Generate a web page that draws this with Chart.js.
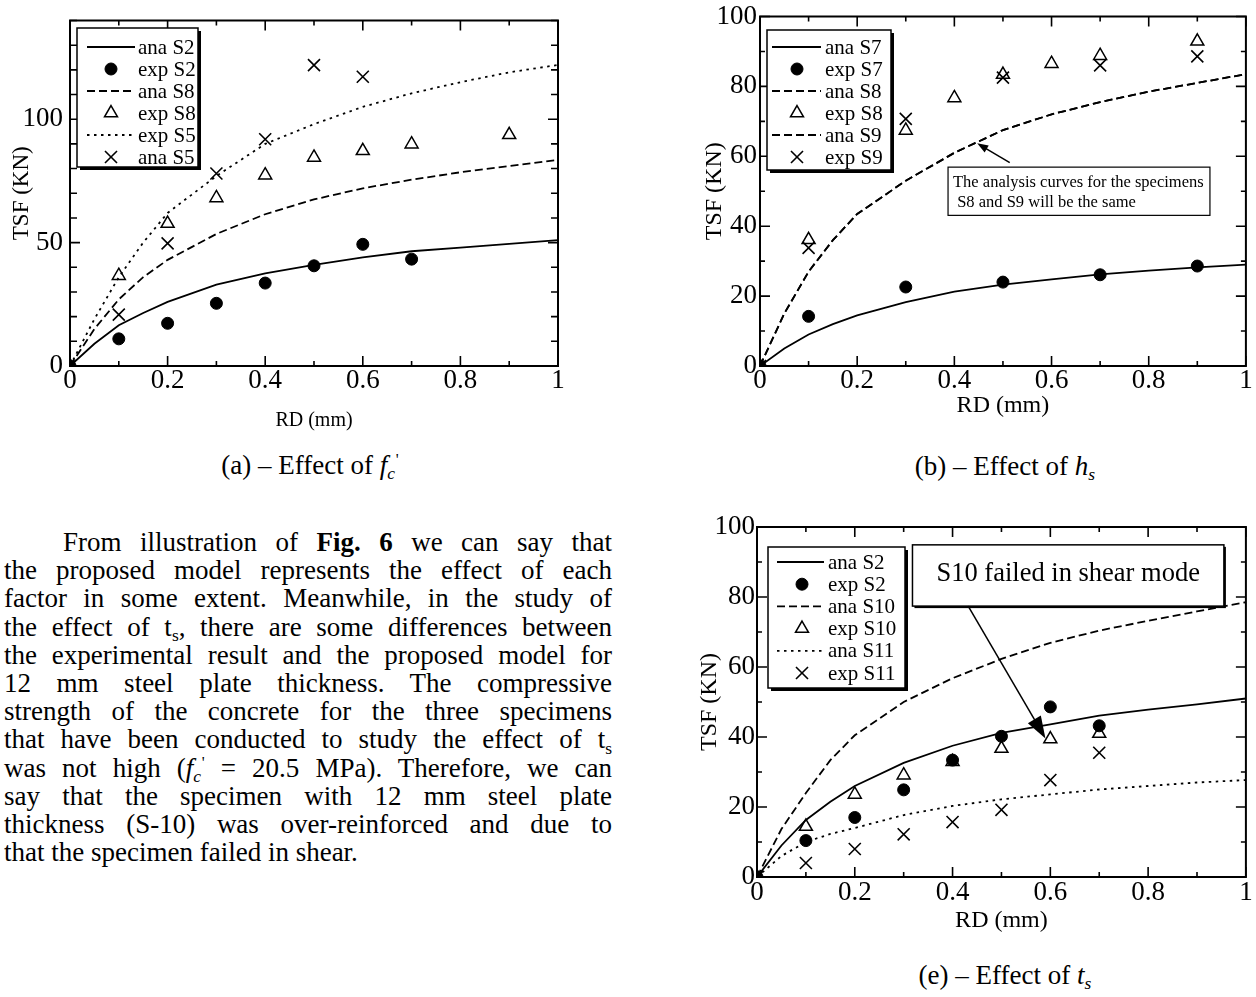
<!DOCTYPE html>
<html><head><meta charset="utf-8">
<script src="https://cdn.jsdelivr.net/npm/chart.js@4.4.0/dist/chart.umd.min.js"></script>
<style>
html,body{margin:0;padding:0;background:#fff;}
body{width:1256px;height:997px;position:relative;overflow:hidden;font-family:"Liberation Serif","Times New Roman",serif;color:#000;}
canvas{position:absolute;}
.cap{position:absolute;font-size:27px;white-space:nowrap;transform:translate(-50%,-50%);line-height:1;}
.ln{position:absolute;font-size:27px;line-height:28px;white-space:nowrap;display:inline-block;}
.sb{position:relative;top:0.3em;font-size:0.65em;}
.sp{position:relative;top:-0.55em;font-size:0.6em;margin-left:0.05em;}
</style></head>
<body>
<canvas id="ca" width="580" height="440" style="left:0px;top:0px;width:580px;height:440px"></canvas>
<canvas id="cb" width="576" height="440" style="left:680px;top:0px;width:576px;height:440px"></canvas>
<canvas id="ce" width="576" height="440" style="left:680px;top:500px;width:576px;height:440px"></canvas>

<div class="cap" style="left:310px;top:465px">(a) – Effect of <i>f</i><span class="sb"><i>c</i></span><span class="sp">'</span></div>
<div class="cap" style="left:1005px;top:466px">(b) – Effect of <i>h</i><span class="sb"><i>s</i></span></div>
<div class="cap" style="left:1005px;top:975px">(e) – Effect of <i>t</i><span class="sb"><i>s</i></span></div>

<div id="para"></div>

<script>
// ---------------- DATA ----------------
const xTickValues = [0, 0.2, 0.4, 0.6, 0.8, 1];
const xTickLabels = ['0', '0.2', '0.4', '0.6', '0.8', '1'];
const yTickValuesA = [0, 50, 100];
const yTickLabelsA = ['0', '50', '100'];
const yTickValuesBE = [0, 20, 40, 60, 80, 100];
const yTickLabelsBE = ['0', '20', '40', '60', '80', '100'];

// analysis curves share the same RD sampling
const curveRD = [0, 0.05, 0.1, 0.15, 0.2, 0.3, 0.4, 0.5, 0.6, 0.7, 0.8, 0.9, 1.0];

// (a) Effect of f'c
const a_anaS2 = [0, 9, 16.5, 21.5, 26, 33, 37.5, 41, 44, 46.5, 48, 49.5, 51];
const a_anaS8 = [0, 15, 27, 36, 43, 53.5, 61.5, 67.5, 72, 75.5, 78.5, 81, 83.5];
const a_expS5 = [0, 19, 36, 50, 62, 77, 90, 98, 105, 110.5, 115, 119, 122];
const a_expS2RD = [0, 0.1, 0.2, 0.3, 0.4, 0.5, 0.6, 0.7];
const a_expS2 = [0, 11, 17.3, 25.4, 33.6, 40.6, 49.3, 43.3];
const a_expS8RD = [0, 0.1, 0.2, 0.3, 0.4, 0.5, 0.6, 0.7, 0.9];
const a_expS8 = [0, 36.6, 57.7, 68.1, 77.3, 84.5, 87.2, 89.9, 93.7];
const a_anaS5RD = [0, 0.1, 0.2, 0.3, 0.4, 0.5, 0.6];
const a_anaS5 = [0, 20.8, 49.7, 78, 91.9, 121.9, 117.2];

// (b) Effect of hs
const b_anaS7 = [0, 5, 9, 12, 14.5, 18.3, 21.3, 23.3, 24.8, 26.2, 27.3, 28.2, 29];
const b_anaS8 = [0, 15, 27, 36, 43.5, 53, 61, 67.5, 72, 75.5, 78.5, 81, 83.5];
const b_anaS9 = [0, 15, 27, 36, 43.5, 53, 61, 67.5, 72, 75.5, 78.5, 81, 83.5];
const b_expRD = [0, 0.1, 0.3, 0.5, 0.7, 0.9];
const b_expS7 = [0, 14.2, 22.6, 24, 26.1, 28.6];
const b_expS8RD = [0, 0.1, 0.3, 0.4, 0.5, 0.6, 0.7, 0.9];
const b_expS8 = [0, 36.1, 67.4, 76.7, 83.4, 86.5, 88.8, 92.9];
const b_expS9 = [0, 33.8, 70.7, 82.5, 86, 88.6];

// (e) Effect of ts
const e_anaS2 = [0, 9, 16.3, 21.5, 26, 32.6, 37.5, 41.2, 43.6, 46.1, 47.8, 49.3, 51];
const e_anaS10 = [0, 13.7, 24, 33.4, 40.5, 50, 56.8, 62.3, 66.9, 70.4, 73.2, 75.9, 78.5];
const e_anaS11 = [0, 6, 10, 12.3, 14, 17.7, 20.3, 22.2, 23.6, 25, 26, 27, 27.7];
const e_expRD = [0, 0.1, 0.2, 0.3, 0.4, 0.5, 0.6, 0.7];
const e_expS2 = [0, 10.4, 17, 24.9, 33.4, 40.2, 48.6, 43.2];
const e_expS10 = [0, 14.4, 23.6, 29.1, 32.9, 36.7, 39.4, 41];
const e_expS11 = [0, 4, 8, 12.2, 15.7, 19.2, 27.7, 35.5];

// ---------------- STYLES ----------------
const FONT = 'Liberation Serif';
const DASH = { solid: [], dashed: [8, 4], dotted: [2.5, 4.5] };
const MARK = {
  circle: { ps: 'circle', r: 6, bw: 1, fill: '#000' },
  triangle: { ps: 'triangle', r: 7.5, bw: 1.5, fill: 'rgba(0,0,0,0)' },
  cross: { ps: 'crossRot', r: 8.5, bw: 1.6, fill: 'rgba(0,0,0,0)' }
};

function pts(xs, ys) { return xs.map((x, i) => ({ x: x, y: ys[i] })); }
function lineDS(label, xs, ys, dash) {
  return { label, data: pts(xs, ys), showLine: true, borderColor: '#000', borderWidth: 1.8,
    borderDash: DASH[dash], pointRadius: 0, pointHoverRadius: 0, fill: false, tension: 0, order: 2 };
}
function markDS(label, xs, ys, m) {
  const s = MARK[m];
  return { label, data: pts(xs, ys), showLine: false, pointStyle: s.ps, pointRadius: s.r,
    pointHoverRadius: s.r, pointBorderWidth: s.bw, pointBackgroundColor: s.fill,
    pointBorderColor: '#000', borderColor: '#000', backgroundColor: s.fill, order: 1 };
}
function labelFor(v, vals, labs) {
  for (let i = 0; i < vals.length; i++) if (Math.abs(v - vals[i]) < 1e-6) return labs[i];
  return '';
}

function drawMarker(ctx, style, r, x, y, fill, bw) {
  ctx.save();
  ctx.lineWidth = bw; ctx.strokeStyle = '#000'; ctx.fillStyle = fill;
  ctx.beginPath();
  if (style === 'circle') {
    ctx.arc(x, y, r, 0, Math.PI * 2); ctx.closePath(); ctx.fill(); ctx.stroke();
  } else if (style === 'triangle') {
    let rad = 0;
    ctx.moveTo(x + Math.sin(rad) * r, y - Math.cos(rad) * r);
    rad += Math.PI * 2 / 3; ctx.lineTo(x + Math.sin(rad) * r, y - Math.cos(rad) * r);
    rad += Math.PI * 2 / 3; ctx.lineTo(x + Math.sin(rad) * r, y - Math.cos(rad) * r);
    ctx.closePath(); ctx.stroke();
  } else {
    const o = Math.cos(Math.PI / 4) * r;
    ctx.moveTo(x - o, y - o); ctx.lineTo(x + o, y + o);
    ctx.moveTo(x + o, y - o); ctx.lineTo(x - o, y + o); ctx.stroke();
  }
  ctx.restore();
}

// ---------------- PLUGINS ----------------
const frameTicks = {
  id: 'frameTicks',
  afterDatasetsDraw(chart, args, o) {
    const ctx = chart.ctx, a = chart.chartArea, xs = chart.scales.x, ys = chart.scales.y;
    ctx.save();
    ctx.strokeStyle = '#000';
    ctx.lineWidth = 1.6;
    const nX = Math.round((xs.max - xs.min) / o.xMinor);
    for (let i = 0; i <= nX; i++) {
      const p = xs.getPixelForValue(xs.min + i * o.xMinor);
      const L = (i % o.xEvery === 0) ? o.major : o.minor;
      ctx.beginPath();
      ctx.moveTo(p, a.bottom); ctx.lineTo(p, a.bottom - L);
      ctx.moveTo(p, a.top); ctx.lineTo(p, a.top + L);
      ctx.stroke();
    }
    const nY = Math.round((ys.max - ys.min) / o.yMinor);
    for (let i = 0; i <= nY; i++) {
      const p = ys.getPixelForValue(ys.min + i * o.yMinor);
      const L = (i % o.yEvery === 0) ? o.major : o.yMinorLen;
      ctx.beginPath();
      ctx.moveTo(a.left, p); ctx.lineTo(a.left + L, p);
      ctx.moveTo(a.right, p); ctx.lineTo(a.right - L, p);
      ctx.stroke();
    }
    ctx.lineWidth = 2;
    ctx.strokeRect(a.left, a.top, a.right - a.left, a.bottom - a.top);
    ctx.restore();
  }
};

const boxLegend = {
  id: 'boxLegend',
  afterDraw(chart, args, o) {
    const ctx = chart.ctx;
    ctx.save();
    ctx.fillStyle = '#000';
    ctx.fillRect(o.x + o.shadow, o.y + o.shadow, o.w, o.h);
    ctx.fillStyle = '#fff';
    ctx.fillRect(o.x, o.y, o.w, o.h);
    ctx.strokeStyle = '#000'; ctx.lineWidth = 1.5;
    ctx.strokeRect(o.x, o.y, o.w, o.h);
    chart.data.datasets.forEach((ds, i) => {
      const cy = o.y + o.first + i * o.row;
      if (ds.showLine) {
        ctx.save();
        ctx.setLineDash(ds.borderDash || []);
        ctx.lineWidth = ds.borderWidth; ctx.strokeStyle = '#000';
        ctx.beginPath(); ctx.moveTo(o.x0, cy); ctx.lineTo(o.x1, cy); ctx.stroke();
        ctx.restore();
      } else {
        drawMarker(ctx, ds.pointStyle, ds.pointRadius, o.mx, cy, ds.pointBackgroundColor, ds.pointBorderWidth);
      }
      ctx.fillStyle = '#000';
      ctx.font = o.size + 'px "' + FONT + '"';
      ctx.textBaseline = 'middle'; ctx.textAlign = 'left';
      ctx.fillText(ds.label, o.tx, cy + 1);
    });
    ctx.restore();
  }
};

const notes = {
  id: 'notes',
  afterDraw(chart, args, o) {
    const ctx = chart.ctx, xs = chart.scales.x, ys = chart.scales.y;
    (o.items || []).forEach(n => {
      const L = xs.getPixelForValue(n.box[0]), R = xs.getPixelForValue(n.box[1]);
      const T = ys.getPixelForValue(n.box[2]), B = ys.getPixelForValue(n.box[3]);
      ctx.save();
      if (n.shadow) { ctx.fillStyle = '#000'; ctx.fillRect(L + n.shadow, T + n.shadow, R - L, B - T); }
      ctx.fillStyle = '#fff'; ctx.fillRect(L, T, R - L, B - T);
      ctx.strokeStyle = '#000'; ctx.lineWidth = n.border; ctx.strokeRect(L, T, R - L, B - T);
      ctx.fillStyle = '#000'; ctx.font = n.size + 'px "' + FONT + '"'; ctx.textBaseline = 'middle';
      n.lines.forEach((t, k) => {
        if (n.center) { ctx.textAlign = 'center'; ctx.fillText(t, (L + R) / 2, T + n.lineY[k]); }
        else { ctx.textAlign = 'left'; ctx.fillText(t, L + n.pad, T + n.lineY[k]); }
      });
      // arrow
      const x0 = xs.getPixelForValue(n.arrow.from[0]), y0 = ys.getPixelForValue(n.arrow.from[1]);
      const x1 = xs.getPixelForValue(n.arrow.to[0]), y1 = ys.getPixelForValue(n.arrow.to[1]);
      const dx = x1 - x0, dy = y1 - y0, len = Math.hypot(dx, dy), ux = dx / len, uy = dy / len;
      const hl = n.arrow.len, hw = n.arrow.width / 2;
      ctx.lineWidth = 1.5;
      ctx.beginPath(); ctx.moveTo(x0, y0); ctx.lineTo(x1 - ux * hl * 0.8, y1 - uy * hl * 0.8); ctx.stroke();
      const bx = x1 - ux * hl, by = y1 - uy * hl;
      ctx.beginPath();
      ctx.moveTo(x1, y1);
      ctx.lineTo(bx - uy * hw, by + ux * hw);
      ctx.lineTo(bx + uy * hw, by - ux * hw);
      ctx.closePath(); ctx.fill();
      ctx.restore();
    });
  }
};

// ---------------- CHART FACTORY ----------------
function makeChart(id, datasets, c) {
  return new Chart(document.getElementById(id), {
    type: 'scatter',
    data: { datasets },
    plugins: [frameTicks, boxLegend, notes],
    options: {
      responsive: false, animation: false, devicePixelRatio: 1, events: [],
      layout: { padding: c.pad },
      plugins: {
        legend: { display: false }, tooltip: { enabled: false }, title: { display: false },
        frameTicks: { xMinor: 0.1, xEvery: 2, yMinor: 10, yEvery: c.yEvery, major: 10, minor: 5, yMinorLen: c.yMinorLen },
        boxLegend: c.legend,
        notes: { items: c.notes || [] }
      },
      scales: {
        x: {
          type: 'linear', min: 0, max: 1,
          afterFit(s) { s.height = c.xH; },
          grid: { display: false, drawTicks: false }, border: { display: false },
          ticks: { stepSize: 0.1, autoSkip: false, maxRotation: 0, padding: c.xTickPad, color: '#000',
            font: { family: FONT, size: 27, lineHeight: 1 },
            callback: v => labelFor(v, xTickValues, xTickLabels) },
          title: { display: true, text: 'RD (mm)', color: '#000',
            font: { family: FONT, size: c.xTitleSize, lineHeight: 1 }, padding: { top: 0, bottom: c.xTitlePad } }
        },
        y: {
          type: 'linear', min: 0, max: c.yMax,
          afterFit(s) { s.width = c.yW; },
          grid: { display: false, drawTicks: false }, border: { display: false },
          ticks: { stepSize: 10, autoSkip: false, padding: c.yTickPad, color: '#000',
            font: { family: FONT, size: 27, lineHeight: 1 },
            callback: v => labelFor(v, c.yVals, c.yLabs) },
          title: { display: true, text: 'TSF (KN)', color: '#000',
            font: { family: FONT, size: c.yTitleSize, lineHeight: 1 }, padding: { top: c.yTitlePad, bottom: 0 } }
        }
      }
    }
  });
}

makeChart('ca', [
  lineDS('ana S2', curveRD, a_anaS2, 'solid'),
  markDS('exp S2', a_expS2RD, a_expS2, 'circle'),
  lineDS('ana S8', curveRD, a_anaS8, 'dashed'),
  markDS('exp S8', a_expS8RD, a_expS8, 'triangle'),
  lineDS('exp S5', curveRD, a_expS5, 'dotted'),
  markDS('ana S5', a_anaS5RD, a_anaS5, 'cross')
], {
  pad: { left: 0, top: 17, right: 22, bottom: 0 }, xH: 74, yW: 70, yMax: 140,
  yVals: yTickValuesA, yLabs: yTickLabelsA, yEvery: 5, yMinorLen: 7,
  xTickPad: 1, yTickPad: 7, xTitleSize: 20, xTitlePad: 9, yTitleSize: 23, yTitlePad: 10,
  legend: { x: 77, y: 28, w: 121, h: 139, shadow: 3, first: 19, row: 22, x0: 87, x1: 135, mx: 111, tx: 138, size: 21 }
});

makeChart('cb', [
  lineDS('ana S7', curveRD, b_anaS7, 'solid'),
  markDS('exp S7', b_expRD, b_expS7, 'circle'),
  lineDS('ana S8', curveRD, b_anaS8, 'dashed'),
  markDS('exp S8', b_expS8RD, b_expS8, 'triangle'),
  lineDS('ana S9', curveRD, b_anaS9, 'dashed'),
  markDS('exp S9', b_expRD, b_expS9, 'cross')
], {
  pad: { left: 0, top: 16, right: 8, bottom: 0 }, xH: 74, yW: 80, yMax: 100,
  yVals: yTickValuesBE, yLabs: yTickLabelsBE, yEvery: 2, yMinorLen: 5,
  xTickPad: 1, yTickPad: 3, xTitleSize: 24, xTitlePad: 22, yTitleSize: 24, yTitlePad: 23,
  legend: { x: 87, y: 30, w: 124, h: 140, shadow: 3, first: 17, row: 22, x0: 92, x1: 141, mx: 117, tx: 145, size: 21 },
  notes: [{
    box: [0.387, 0.926, 56.9, 43.1], border: 1.2, shadow: 0, size: 16.5, center: false, pad: 5,
    lines: ['The analysis curves for the specimens', ' S8 and S9 will be the same'], lineY: [16, 36],
    arrow: { from: [0.514, 58.2], to: [0.447, 63.7], len: 11, width: 8 }
  }]
});

makeChart('ce', [
  lineDS('ana S2', curveRD, e_anaS2, 'solid'),
  markDS('exp S2', e_expRD, e_expS2, 'circle'),
  lineDS('ana S10', curveRD, e_anaS10, 'dashed'),
  markDS('exp S10', e_expRD, e_expS10, 'triangle'),
  lineDS('ana S11', curveRD, e_anaS11, 'dotted'),
  markDS('exp S11', e_expRD, e_expS11, 'cross')
], {
  pad: { left: 0, top: 27, right: 8, bottom: 0 }, xH: 63, yW: 77, yMax: 100,
  yVals: yTickValuesBE, yLabs: yTickLabelsBE, yEvery: 2, yMinorLen: 5,
  xTickPad: 2, yTickPad: 2, xTitleSize: 24, xTitlePad: 7, yTitleSize: 24, yTitlePad: 18,
  legend: { x: 88, y: 47, w: 137, h: 141, shadow: 3, first: 15, row: 22.2, x0: 97, x1: 144, mx: 122, tx: 148, size: 21 },
  notes: [{
    box: [0.318, 0.955, 94.9, 77.4], border: 1.5, shadow: 2, size: 26.5, center: true, pad: 0,
    lines: ['S10 failed in shear mode'], lineY: [29],
    arrow: { from: [0.432, 77.4], to: [0.59, 39.6], len: 22, width: 15 }
  }]
});

// ---------------- PARAGRAPH ----------------
const paraLines = [
  'From illustration of <b>Fig. 6</b> we can say that',
  'the proposed model represents the effect of each',
  'factor in some extent. Meanwhile, in the study of',
  'the effect of t<span class="sb">s</span>, there are some differences between',
  'the experimental result and the proposed model for',
  '12 mm steel plate thickness. The compressive',
  'strength of the concrete for the three specimens',
  'that have been conducted to study the effect of t<span class="sb">s</span>',
  'was not high (<i>f</i><span class="sb"><i>c</i></span><span class="sp">\'</span> = 20.5 MPa). Therefore, we can',
  'say that the specimen with 12 mm steel plate',
  'thickness (S-10) was over-reinforced and due to',
  'that the specimen failed in shear.'
];
const para = document.getElementById('para');
paraLines.forEach((h, i) => {
  const d = document.createElement('div');
  d.className = 'ln';
  d.innerHTML = h;
  const left = i === 0 ? 63 : 4;
  d.style.left = left + 'px';
  d.style.top = (542 + i * 28.2 - 14) + 'px';
  para.appendChild(d);
  if (i < paraLines.length - 1) {
    const target = 612 - left;
    const w = d.getBoundingClientRect().width;
    const n = (d.textContent.match(/ /g) || []).length;
    d.style.wordSpacing = ((target - w) / n) + 'px';
  }
});
</script>
</body></html>
